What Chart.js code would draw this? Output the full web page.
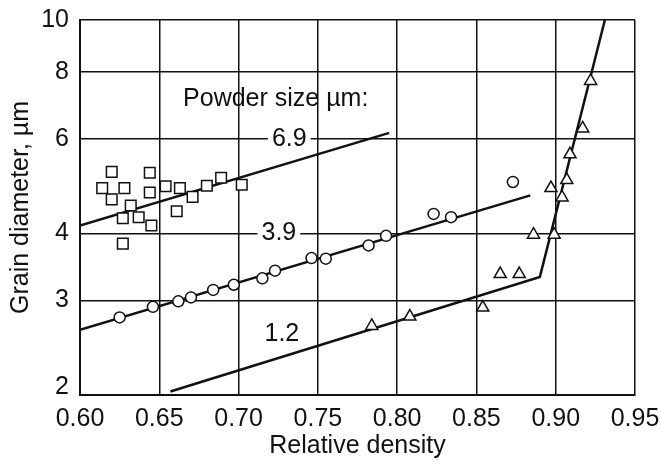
<!DOCTYPE html>
<html>
<head>
<meta charset="utf-8">
<script src="https://cdn.jsdelivr.net/npm/chart.js@4.4.0/dist/chart.umd.min.js"></script>
<style>
  html, body { margin: 0; padding: 0; background: #fff; }
  #grainChart { display: block; }
</style>
</head>
<body>
<canvas id="grainChart" width="661" height="467"></canvas>
<script>
// [relative density, grain diameter um]
var squares69 = [
    [0.620, 5.21], [0.644, 5.19], [0.614, 4.86], [0.628, 4.86], [0.644, 4.77],
    [0.654, 4.90], [0.663, 4.86], [0.620, 4.63], [0.632, 4.51], [0.627, 4.27],
    [0.637, 4.29], [0.645, 4.14], [0.661, 4.40], [0.671, 4.68], [0.680, 4.91],
    [0.689, 5.08], [0.702, 4.93], [0.627, 3.83]
];
var circles39 = [
    [0.625, 2.79], [0.646, 2.92], [0.662, 2.99], [0.670, 3.04], [0.684, 3.14],
    [0.697, 3.21], [0.715, 3.30], [0.723, 3.41], [0.746, 3.60], [0.755, 3.59],
    [0.782, 3.80], [0.793, 3.96], [0.823, 4.35], [0.834, 4.29], [0.873, 4.99]
];
var triangles12 = [
    [0.784, 2.69], [0.808, 2.80], [0.854, 2.91], [0.865, 3.36], [0.877, 3.36],
    [0.886, 3.98], [0.899, 3.98], [0.897, 4.86], [0.904, 4.67], [0.907, 5.03],
    [0.909, 5.62], [0.917, 6.28], [0.922, 7.70]
];

// fitted lines
var fit69 = [[0.600, 4.14], [0.795, 6.16]];
var fit39 = [[0.600, 2.645], [0.884, 4.71]];
var fit12 = [[0.657, 2.03], [0.890, 3.32], [0.931, 10.0]];

var xTicks = [0.60, 0.65, 0.70, 0.75, 0.80, 0.85, 0.90, 0.95];
var yTicks = [2, 3, 4, 6, 8, 10];

var curveLabels = [
    { text: 'Powder size \u00b5m:', x: 0.665, y: 7.12, align: 'left', box: false },
    { text: '6.9', x: 0.732, y: 6, align: 'center', box: true },
    { text: '3.9', x: 0.7254, y: 4, align: 'center', box: true },
    { text: '1.2', x: 0.7273, y: 2.60, align: 'center', box: false }
];

var ink = '#111';
var fontFamily = '"Liberation Sans", Arial, Helvetica, sans-serif';
var fontSize = 25;

function toPoints(arr) {
    return arr.map(function(p) { return { x: p[0], y: p[1] }; });
}

function markerSet(arr, style, r) {
    return {
        data: toPoints(arr),
        showLine: false,
        pointStyle: style,
        pointRadius: r,
        pointBackgroundColor: '#fff',
        pointBorderColor: ink,
        pointBorderWidth: 1.5,
        order: 0
    };
}

function lineSet(arr) {
    return {
        data: toPoints(arr),
        showLine: true,
        pointRadius: 0,
        borderColor: ink,
        borderWidth: 2.5,
        fill: false,
        order: 1
    };
}

var labelPlugin = {
    id: 'curveLabels',
    afterDatasetsDraw: function(chart) {
        var ctx = chart.ctx;
        var xs = chart.scales.x, ys = chart.scales.y;
        ctx.save();
        ctx.font = fontSize + 'px ' + fontFamily;
        ctx.textBaseline = 'middle';
        curveLabels.forEach(function(l) {
            var px = xs.getPixelForValue(l.x);
            var py = ys.getPixelForValue(l.y);
            var w = ctx.measureText(l.text).width;
            if (l.box) {
                ctx.fillStyle = '#fff';
                ctx.fillRect(px - w / 2 - 4, py - 11, w + 8, 22);
            }
            ctx.fillStyle = ink;
            ctx.textAlign = l.align;
            ctx.fillText(l.text, px, py);
        });
        ctx.restore();
    }
};

new Chart(document.getElementById('grainChart'), {
    type: 'scatter',
    data: {
        datasets: [
            markerSet(squares69, 'rect', 7.5),
            markerSet(circles39, 'circle', 5.5),
            markerSet(triangles12, 'triangle', 7),
            lineSet(fit69),
            lineSet(fit39),
            lineSet(fit12)
        ]
    },
    options: {
        responsive: false,
        animation: false,
        layout: { padding: { top: 20, right: 26, left: 0, bottom: 0 } },
        plugins: {
            legend: { display: false },
            tooltip: { enabled: false }
        },
        scales: {
            x: {
                type: 'linear',
                min: 0.6,
                max: 0.95,
                afterBuildTicks: function(s) {
                    s.ticks = xTicks.map(function(v) { return { value: v }; });
                },
                afterFit: function(s) {
                    s.height = 72;
                    s.paddingRight = 0;
                    s.paddingLeft = 0;
                },
                ticks: {
                    autoSkip: false,
                    maxRotation: 0,
                    padding: 9,
                    color: ink,
                    font: { family: fontFamily, size: fontSize },
                    callback: function(v) { return Number(v).toFixed(2); }
                },
                grid: { color: ink, lineWidth: 1.5, drawTicks: false },
                border: { color: ink, width: 2 },
                title: {
                    display: true,
                    text: 'Relative density',
                    color: ink,
                    font: { family: fontFamily, size: fontSize },
                    padding: { top: 0, bottom: 6 }
                }
            },
            y: {
                type: 'logarithmic',
                min: 2,
                max: 10,
                afterBuildTicks: function(s) {
                    s.ticks = yTicks.map(function(v) { return { value: v }; });
                },
                afterFit: function(s) {
                    s.width = 80;
                    s.paddingTop = 0;
                    s.paddingBottom = 0;
                },
                ticks: {
                    autoSkip: false,
                    padding: 11,
                    color: ink,
                    font: function(c) {
                        if (c.tick && c.tick.value === 2) {
                            return { family: fontFamily, size: fontSize, lineHeight: '16px' };
                        }
                        return { family: fontFamily, size: fontSize };
                    },
                    callback: function(v) { return v === 2 ? ['2', ''] : String(v); }
                },
                grid: { color: ink, lineWidth: 1.5, drawTicks: false },
                border: { color: ink, width: 2 },
                title: {
                    display: true,
                    text: 'Grain diameter, \u00b5m',
                    color: ink,
                    font: { family: fontFamily, size: fontSize },
                    padding: { top: 6, bottom: 0 }
                }
            }
        }
    },
    plugins: [labelPlugin]
});
</script>
</body>
</html>
